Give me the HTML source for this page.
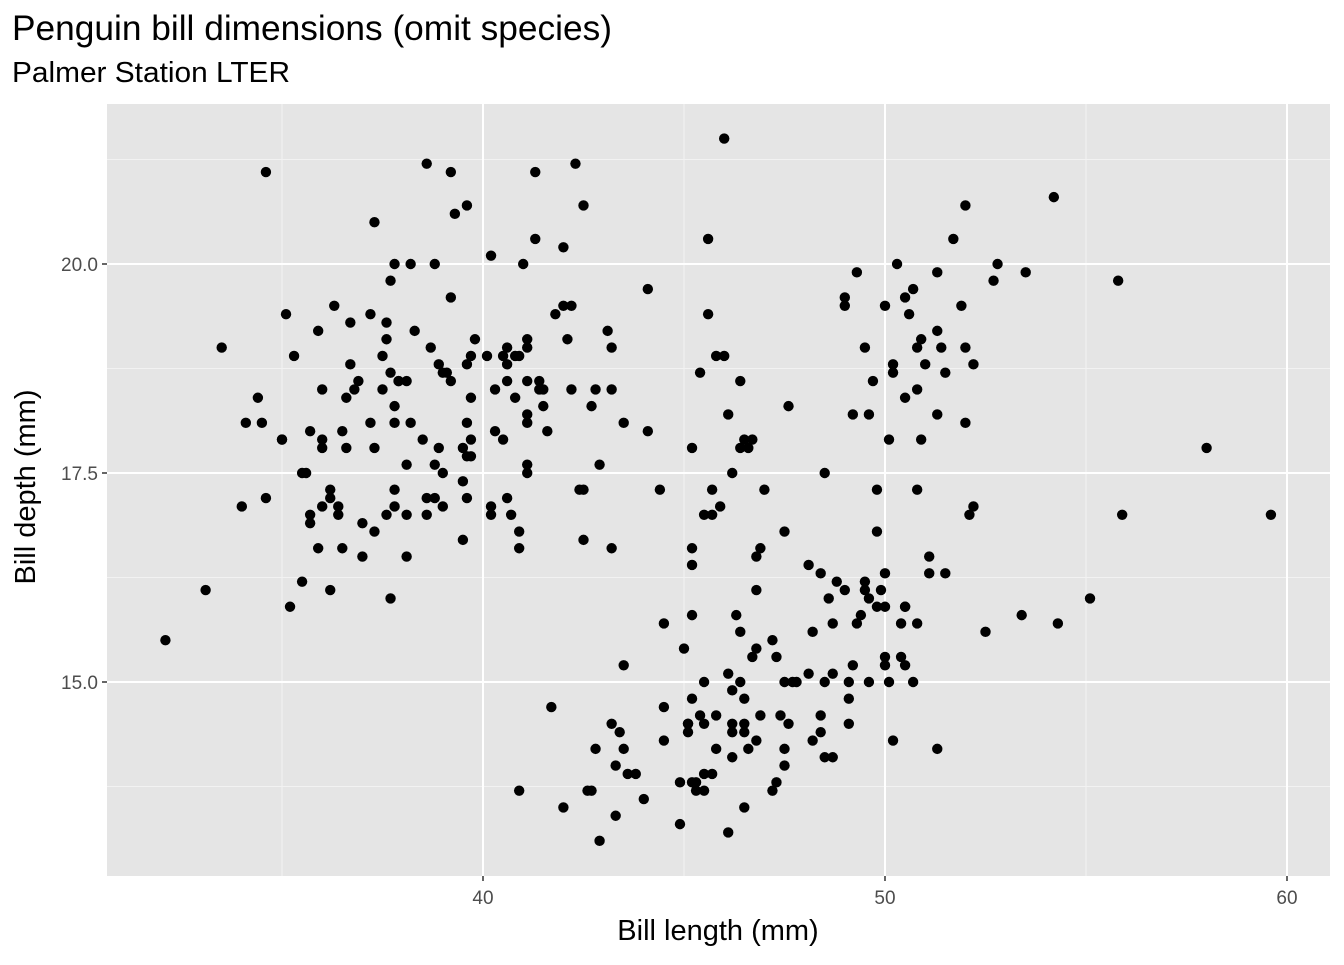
<!DOCTYPE html>
<html><head><meta charset="utf-8"><style>
body{margin:0;background:#fff;font-family:"Liberation Sans",Arial,sans-serif}
</style></head><body>
<svg id="chart" width="1344" height="960" xmlns="http://www.w3.org/2000/svg" font-family="Liberation Sans, Arial, sans-serif">
<text x="12" y="40" font-size="35" fill="#000" textLength="600" lengthAdjust="spacingAndGlyphs">Penguin bill dimensions (omit species)</text>
<text x="12" y="82" font-size="29" fill="#000" textLength="278" lengthAdjust="spacingAndGlyphs">Palmer Station LTER</text>
<g id="plot"></g>
<text x="718" y="940" font-size="29" text-anchor="middle">Bill length (mm)</text>
<text transform="translate(35,487) rotate(-90)" font-size="29" text-anchor="middle">Bill depth (mm)</text>
</svg>
<script>
const billLength = [39.1,39.5,40.3,36.7,39.3,38.9,39.2,34.1,42,37.8,37.8,41.1,38.6,34.6,36.6,38.7,42.5,34.4,46,37.8,37.7,35.9,38.2,38.8,35.3,40.6,40.5,37.9,40.5,39.5,37.2,39.5,40.9,36.4,39.2,38.8,42.2,37.6,39.8,36.5,40.8,36,44.1,37,39.6,41.1,37.5,36,42.3,39.6,40.1,35,42,34.5,41.4,39,40.6,36.5,37.6,35.7,41.3,37.6,41.1,36.4,41.6,35.5,41.1,35.9,41.8,33.5,39.7,39.6,45.8,35.5,42.8,40.9,37.2,36.2,42.1,34.6,42.9,36.7,35.1,37.3,41.3,36.3,36.9,38.3,38.9,35.7,41.1,34,39.6,36.2,40.8,38.1,40.3,33.1,43.2,35,41,37.7,37.8,37.9,39.7,38.6,38.2,38.1,43.2,38.1,45.6,39.7,42.2,39.6,42.7,38.6,37.3,35.7,41.1,36.2,37.7,40.2,41.4,35.2,40.6,38.8,41.5,39,44.1,38.5,43.1,36.8,37.5,38.1,41.1,35.6,40.2,37,39.7,40.2,40.6,32.1,40.7,37.3,39,39.2,36.6,36,37.8,36,41.5,
46.1,50,48.7,50,47.6,46.5,45.4,46.7,43.3,46.8,40.9,49,45.5,48.4,45.8,49.3,42,49.2,46.2,48.7,50.2,45.1,46.5,46.3,42.9,46.1,44.5,47.8,48.2,50,47.3,42.8,45.1,59.6,49.1,48.4,42.6,44.4,44,48.7,42.7,49.6,45.3,49.6,50.5,43.6,45.5,50.5,44.9,45.2,46.6,48.5,45.1,50.1,46.5,45,43.8,45.5,43.2,50.4,45.3,46.2,45.7,54.3,45.8,49.8,46.2,49.5,43.5,50.7,47.7,46.4,48.2,46.5,46.4,48.6,47.5,51.1,45.2,45.2,49.1,52.5,47.4,50,44.9,50.8,43.4,51.3,47.5,52.1,47.5,52.2,45.5,49.5,44.5,50.8,49.4,46.9,48.4,51.1,48.5,55.9,47.2,49.1,47.3,46.8,41.7,53.4,43.3,48.1,50.5,49.8,43.5,51.5,46.2,55.1,44.5,48.8,47.2,46.8,50.4,45.2,49.9,
46.5,50,51.3,45.4,52.7,45.2,46.1,51.3,46,51.3,46.6,51.7,47,52,45.9,50.5,50.3,58,46.4,49.2,42.4,48.5,43.2,50.6,46.7,52,50.5,49.5,46.4,52.8,40.9,54.2,42.5,51,49.7,47.5,47.6,52,46.9,53.5,49,46.2,50.9,45.5,50.9,50.8,50.1,49,51.5,49.8,48.1,51.4,45.7,50.7,42.5,52.2,45.2,49.3,50.2,45.6,51.9,46.8,45.7,55.8,43.5,49.6,50.8,50.2];
const billDepth = [18.7,17.4,18,19.3,20.6,17.8,19.6,18.1,20.2,17.1,17.3,17.6,21.2,21.1,17.8,19,20.7,18.4,21.5,18.3,18.7,19.2,18.1,17.2,18.9,18.6,17.9,18.6,18.9,16.7,18.1,17.8,18.9,17,21.1,20,18.5,19.3,19.1,18,18.4,18.5,19.7,16.9,18.8,19,18.9,17.9,21.2,17.7,18.9,17.9,19.5,18.1,18.6,17.5,18.8,16.6,19.1,16.9,21.1,17,18.2,17.1,18,16.2,19.1,16.6,19.4,19,18.4,17.2,18.9,17.5,18.5,16.8,19.4,16.1,19.1,17.2,17.6,18.8,19.4,17.8,20.3,19.5,18.6,19.2,18.8,18,18.1,17.1,18.1,17.3,18.9,18.6,18.5,16.1,18.5,17.9,20,16,20,18.6,18.9,17.2,20,17,19,16.5,20.3,17.7,19.5,20.7,18.3,17,20.5,17,18.6,17.2,19.8,17,18.5,15.9,19,17.6,18.3,17.1,18,17.9,19.2,18.5,18.5,17.6,17.5,17.5,20.1,16.5,17.9,17.1,17.2,15.5,17,16.8,18.7,18.6,18.4,17.8,18.1,17.1,18.5,
13.2,16.3,14.1,15.2,14.5,13.5,14.6,15.3,13.4,15.4,13.7,16.1,13.7,14.6,14.6,15.7,13.5,15.2,14.5,15.1,14.3,14.5,14.5,15.8,13.1,15.1,14.3,15,14.3,15.3,15.3,14.2,14.5,17,14.8,16.3,13.7,17.3,13.6,15.7,13.7,16,13.7,15,15.9,13.9,13.9,15.9,13.3,15.8,14.2,14.1,14.4,15,14.4,15.4,13.9,15,14.5,15.3,13.8,14.9,13.9,15.7,14.2,16.8,14.4,16.2,14.2,15,15,15.6,15.6,14.8,15,16,14.2,16.3,13.8,16.4,14.5,15.6,14.6,15.9,13.8,17.3,14.4,14.2,14,17,15,17.1,14.5,16.1,14.7,15.7,15.8,14.6,14.4,16.5,15,17,15.5,15,13.8,16.1,14.7,15.8,14,15.1,15.2,15.9,15.2,16.3,14.1,16,15.7,16.2,13.7,14.3,15.7,14.8,16.1,
17.9,19.5,19.2,18.7,19.8,17.8,18.2,18.2,18.9,19.9,17.8,20.3,17.3,18.1,17.1,19.6,20,17.8,18.6,18.2,17.3,17.5,16.6,19.4,17.9,19,18.4,19,17.8,20,16.6,20.8,16.7,18.8,18.6,16.8,18.3,20.7,16.6,19.9,19.5,17.5,19.1,17,17.9,18.5,17.9,19.6,18.7,17.3,16.4,19,17.3,19.7,17.3,18.8,16.6,19.9,18.8,19.4,19.5,16.5,17,19.8,18.1,18.2,19,18.7];
const xTicks = [40,50,60];
const yTicks = [15.0,17.5,20.0];
const xTickLabels = ["40","50","60"];
const yTickLabels = ["15.0","17.5","20.0"];

const P={l:107,r:1330,t:104,b:876};
const xs=v=>483+(v-40)*40.2;
const ys=v=>682-(v-15)*83.6;
const NS="http://www.w3.org/2000/svg";
const g=document.getElementById('plot');
function mk(t,a){const e=document.createElementNS(NS,t);for(const k in a)e.setAttribute(k,a[k]);g.appendChild(e);return e;}
const bg=mk('rect',{x:P.l,y:P.t,width:P.r-P.l,height:P.b-P.t,fill:'#e5e5e5'});


for(let i=0;i<xTicks.length+1;i++){const v=xTicks[0]-5+i*10;const x=xs(v);if(x>P.l&&x<P.r){const l=mk('line',{x1:x,x2:x,y1:P.t,y2:P.b,stroke:'#f2f2f2','stroke-width':1});}}
for(let i=0;i<yTicks.length+1;i++){const v=yTicks[0]-1.25+i*2.5;const y=ys(v);if(y>P.t&&y<P.b){const l=mk('line',{x1:P.l,x2:P.r,y1:y,y2:y,stroke:'#f2f2f2','stroke-width':1});}}
xTicks.forEach((v,i)=>{const x=xs(v);
const l=mk('line',{x1:x,x2:x,y1:P.t,y2:P.b,stroke:'#fff','stroke-width':2});
const tk=mk('line',{x1:x,x2:x,y1:P.b,y2:P.b+5,stroke:'#333','stroke-width':1.5});
const t=mk('text',{x:x,y:P.b+28,'font-size':19,fill:'#4d4d4d','text-anchor':'middle'});t.textContent=xTickLabels[i];});
yTicks.forEach((v,i)=>{const y=ys(v);
const l=mk('line',{x1:P.l,x2:P.r,y1:y,y2:y,stroke:'#fff','stroke-width':2});
const tk=mk('line',{x1:P.l-5,x2:P.l,y1:y,y2:y,stroke:'#333','stroke-width':1.5});
const t=mk('text',{x:P.l-9,y:y+7,'font-size':19,fill:'#4d4d4d','text-anchor':'end'});t.textContent=yTickLabels[i];});
billLength.forEach((v,i)=>{const c=mk('circle',{cx:xs(v),cy:ys(billDepth[i]),r:5.2,fill:'#000'});

});
</script>
</body></html>
